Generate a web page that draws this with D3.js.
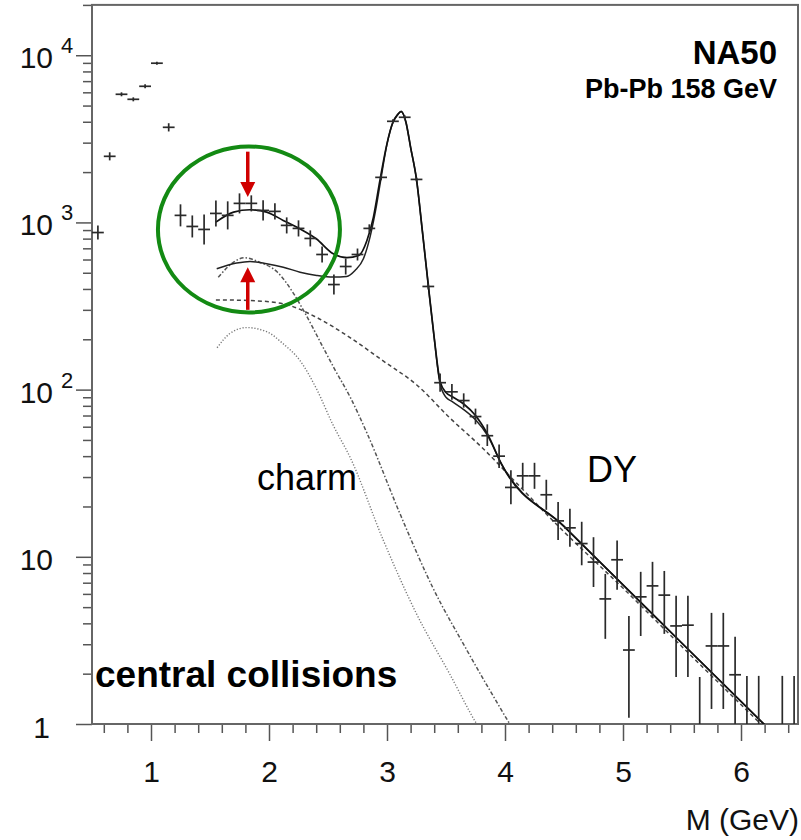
<!DOCTYPE html>
<html>
<head>
<meta charset="utf-8">
<script src="https://cdn.jsdelivr.net/npm/d3@7"></script>
<style>
  body { margin: 0; background: #fff; }
  text { font-family: "Liberation Sans", Arial, Helvetica, sans-serif; }
</style>
</head>
<body>
<svg></svg>
<script>
// dimuon mass bins (GeV), counts and error bar edges
const massBins = [0.55,0.65,0.75,0.85,0.95,1.05,1.15,1.25,1.35,1.45,
  1.55,1.65,1.75,1.85,1.95,2.05,2.15,2.25,2.35,2.45,
  2.55,2.65,2.75,2.85,2.95,3.05,3.15,3.25,3.35,3.45,
  3.55,3.65,3.75,3.85,3.95,4.05,4.15,4.25,4.35,4.45,
  4.55,4.65,4.75,4.85,4.95,5.05,5.15,5.25,5.35,5.45,
  5.55,5.65,5.75,5.85,5.95,6.05,6.15,6.35,6.45];
const counts = [870,2485,5840,5450,6520,8960,3706,1102,946,908,
  1132,1102,1300,1300,1180,1164,960,921,802,643,
  425,545,643,921,1860,4025,4255,1808,414,110,
  97,86,69,53,40,26,30.5,30.5,23.5,16.4,
  14.9,12.0,9.3,5.6,9.6,2.77,5.76,6.7,5.9,3.86,
  3.9,0.8,2.93,2.93,1.97,0.8,0.8,0.8,0.8];
const errLow = [790,2350,5680,5300,6340,8780,3500,947,813,738,
  946,908,1132,1164,1028,1042,859,824,718,576,
  370,488,592,871,1785,3915,4140,1760,397,97,
  87,78,62,46,34,20.6,25.5,25.5,19.1,12.6,
  11.5,8.9,6.6,3.23,6.35,1.09,3.36,4.31,3.46,1.91,
  1.91,0.3,1.23,1.23,0.5,0.3,0.3,0.3,0.3];
const errHigh = [958,2627,6000,5600,6700,9140,3920,1283,1101,1117,
  1354,1337,1492,1452,1355,1300,1072,1029,896,718,
  488,609,698,974,1938,4138,4375,1858,431,125,
  108,95,77,62,47,32.9,36.5,36.5,28.9,21.3,
  19.4,16.2,13.1,7.9,12.5,4.43,8.13,9.33,8.23,5.84,
  5.84,1.91,4.62,4.62,3.32,1.94,1.94,1.94,1.94];

// fitted curves [mass, value]
const fitTotal = [[1.55,1004],[1.70,1153],[1.84,1191],[1.98,1153],[2.12,1028],[2.26,916],[2.40,798],
  [2.545,649],[2.66,615],[2.76,634],[2.83,780],[2.885,1076],[2.94,1784],[3.0,2960],[3.05,3970],
  [3.09,4415],[3.12,4620],[3.16,3990],[3.2,2812],[3.25,1808],[3.3,883],[3.35,420],[3.4,205],
  [3.45,112],[3.5,96],[3.55,91],[3.65,82],[3.75,70],[3.85,54.5],[3.97,35.9],[4.5,15.2],
  [5.0,6.8],[5.5,3.04],[6.2,0.99]];
const fitExpected = [[1.557,528],[1.726,571],[1.839,584],[1.98,566],[2.121,540],[2.263,504],
  [2.404,482],[2.545,471],[2.658,475],[2.729,516],[2.80,606],[2.856,817],[2.91,1250],[2.95,1850],
  [3.0,2940],[3.05,3960],[3.09,4410],[3.12,4615],[3.16,3990],[3.2,2812],[3.25,1808],[3.3,883],
  [3.35,420],[3.4,203],[3.45,108],[3.5,90],[3.55,85],[3.65,76],[3.75,66],[3.85,53.5],[3.97,35.9],
  [4.5,15.2],[5.0,6.8],[5.5,3.04],[6.2,0.99]];
const drellYan = [[1.55,344],[1.84,341],[2.12,326],[2.40,271],[2.69,204],[2.97,148],[3.25,107],
  [3.53,68],[3.82,44],[4.10,27.5],[4.47,14.8],[5.0,6.5],[5.5,2.9],[6.2,0.95]];
const charmScaled = [[1.57,470],[1.70,578],[1.79,615],[1.92,578],[2.07,505],[2.21,374],[2.29,300],
  [2.46,178],[2.55,135],[2.69,89.6],[2.83,55],[3.11,18.1],[3.39,6.5],[3.68,2.74],[4.04,1.0],[4.1,0.85]];
const charm = [[1.56,178],[1.67,217],[1.81,235],[1.98,222],[2.12,188],[2.26,150],[2.41,98.6],
  [2.54,62],[2.69,39],[2.97,12.5],[3.25,4.56],[3.53,2.0],[3.76,1.0],[3.8,0.9]];

const xTickLabels = [1, 2, 3, 4, 5, 6];
const yTickValues = [1, 10, 100, 1000, 10000];

const W = 801, H = 840;
const svg = d3.select('svg').attr('width', W).attr('height', H);

const x = d3.scaleLinear().domain([0.5, 6.483]).range([92, 798]);
const y = d3.scaleLog().domain([1, 2e4]).range([724, 4.9]);

svg.append('defs').append('clipPath').attr('id', 'plot')
  .append('rect')
  .attr('x', x.range()[0]).attr('y', y.range()[1])
  .attr('width', x.range()[1] - x.range()[0])
  .attr('height', y.range()[0] - y.range()[1]);

// ticks
const xMinor = d3.range(0.6, 6.45, 0.2).filter(v => Math.abs(v - Math.round(v)) > 0.05);
const yMinor = [];
yTickValues.forEach(d => { for (let k = 2; k <= 9; k++) if (d * k <= 2e4) yMinor.push(d * k); });

function styleAxis(g) {
  g.select('.domain').remove();
  g.selectAll('line').attr('stroke', '#555').attr('stroke-width', 1.5);
}

svg.append('g').attr('transform', `translate(0,${y.range()[0]})`)
  .call(d3.axisBottom(x).tickValues(xMinor).tickSize(9).tickFormat(''))
  .call(styleAxis);
svg.append('g').attr('transform', `translate(0,${y.range()[0]})`)
  .call(d3.axisBottom(x).tickValues(xTickLabels).tickSize(17).tickPadding(20).tickFormat(d3.format('d')))
  .call(styleAxis)
  .call(g => g.selectAll('text').attr('font-size', 30).attr('fill', '#111')
    .attr('font-family', '"Liberation Sans", Arial, sans-serif'));

svg.append('g').attr('transform', `translate(${x.range()[0]},0)`)
  .call(d3.axisLeft(y).tickValues(yMinor).tickSize(9).tickFormat(''))
  .call(styleAxis);
svg.append('g').attr('transform', `translate(${x.range()[0]},0)`)
  .call(d3.axisLeft(y).tickValues(yTickValues).tickSize(16).tickFormat(''))
  .call(styleAxis);

// y labels 10^n
const ylab = svg.append('g').attr('fill', '#111');
yTickValues.forEach(d => {
  const e = Math.round(Math.log10(d));
  const yy = y(d);
  if (e === 0) {
    ylab.append('text').attr('x', 50).attr('y', yy + 14).attr('text-anchor', 'end')
      .attr('font-size', 30).text('1');
  } else {
    ylab.append('text').attr('x', 53).attr('y', yy + 13).attr('text-anchor', 'end')
      .attr('font-size', 30).text('10');
    if (e > 1) {
      ylab.append('text').attr('x', 61).attr('y', yy - 2)
        .attr('font-size', 22).text(e);
    }
  }
});

// frame
svg.append('rect')
  .attr('x', x.range()[0]).attr('y', y.range()[1])
  .attr('width', x.range()[1] - x.range()[0])
  .attr('height', y.range()[0] - y.range()[1])
  .attr('fill', 'none').attr('stroke', '#666').attr('stroke-width', 2);

const plot = svg.append('g').attr('clip-path', 'url(#plot)');

const line = d3.line().x(d => x(d[0])).y(d => y(d[1])).curve(d3.curveMonotoneX);

plot.append('path').datum(charm).attr('d', line)
  .attr('fill', 'none').attr('stroke', '#777').attr('stroke-width', 1.4).attr('stroke-dasharray', '1.2,1.8');
plot.append('path').datum(charmScaled).attr('d', line)
  .attr('fill', 'none').attr('stroke', '#555').attr('stroke-width', 1.5).attr('stroke-dasharray', '4,2,1.5,2');
plot.append('path').datum(drellYan).attr('d', line)
  .attr('fill', 'none').attr('stroke', '#444').attr('stroke-width', 1.5).attr('stroke-dasharray', '4,3');
plot.append('path').datum(fitExpected).attr('d', line)
  .attr('fill', 'none').attr('stroke', '#222').attr('stroke-width', 1.5);
plot.append('path').datum(fitTotal).attr('d', line)
  .attr('fill', 'none').attr('stroke', '#111').attr('stroke-width', 1.7);

// data crosses
const pts = plot.append('g').attr('stroke', '#2a2a2a').attr('stroke-width', 1.7);
massBins.forEach((m, i) => {
  pts.append('line')
    .attr('x1', x(m - 0.05)).attr('x2', x(m + 0.05))
    .attr('y1', y(counts[i])).attr('y2', y(counts[i]));
  pts.append('line')
    .attr('x1', x(m)).attr('x2', x(m))
    .attr('y1', y(errLow[i])).attr('y2', y(errHigh[i]));
});

// highlight
const ann = svg.append('g');
ann.append('ellipse')
  .attr('cx', x(1.83)).attr('cy', y(908)).attr('rx', 91).attr('ry', 83)
  .attr('fill', 'none').attr('stroke', '#138a13').attr('stroke-width', 4);

function arrow(xm, vFrom, vTo) {
  const x0 = x(xm), y0 = y(vFrom), y1 = y(vTo);
  const dir = y1 > y0 ? 1 : -1;
  ann.append('line').attr('x1', x0).attr('x2', x0).attr('y1', y0).attr('y2', y1 - dir * 12)
    .attr('stroke', '#d00000').attr('stroke-width', 3.5);
  ann.append('path')
    .attr('d', `M${x0 - 7.5},${y1 - dir * 15} L${x0 + 7.5},${y1 - dir * 15} L${x0},${y1} Z`)
    .attr('fill', '#d00000');
}
arrow(1.82, 2650, 1420);
arrow(1.82, 300, 540);

// labels
svg.append('text').attr('x', 777).attr('y', 64).attr('text-anchor', 'end')
  .attr('font-size', 33).attr('font-weight', 'bold').text('NA50');
svg.append('text').attr('x', 777).attr('y', 98).attr('text-anchor', 'end')
  .attr('font-size', 27).attr('font-weight', 'bold').text('Pb-Pb 158 GeV');
svg.append('text').attr('x', 257).attr('y', 490)
  .attr('font-size', 36).text('charm');
svg.append('text').attr('x', 587).attr('y', 482)
  .attr('font-size', 36).text('DY');
svg.append('text').attr('x', 95).attr('y', 687)
  .attr('font-size', 37).attr('font-weight', 'bold').text('central collisions');
svg.append('text').attr('x', 799).attr('y', 830).attr('text-anchor', 'end')
  .attr('font-size', 30).attr('fill', '#111').text('M (GeV)');
</script>
</body>
</html>
